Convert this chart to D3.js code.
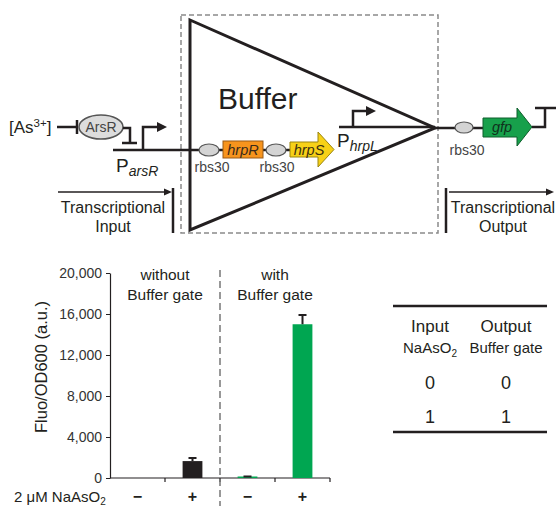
<!DOCTYPE html>
<html>
<head>
<meta charset="utf-8">
<script src="https://cdn.jsdelivr.net/npm/d3@7"></script>
<style>
  body { margin: 0; background: #fff; }
  text { font-family: "Liberation Sans", Arial, sans-serif; fill: #231f20; }
</style>
</head>
<body>
<script>
// chart data
const conditions = ["\u2212", "+", "\u2212", "+"];
const groups = ["without", "without", "with", "with"];
const fluo = [0, 1650, 50, 15000];
const fluoErr = [0, 300, 100, 900];
const yTicks = [0, 4000, 8000, 12000, 16000, 20000];
const groupLabels = [["without", "Buffer gate"], ["with", "Buffer gate"]];
const tableInputs = [0, 1];
const tableOutputs = [0, 1];

const W = 556, H = 506;
const ink = "#231f20";
const svg = d3.select("body").append("svg")
    .attr("width", W).attr("height", H);

// ---------- genetic circuit diagram ----------
const g = svg.append("g");

// dashed buffer box + triangle
g.append("rect")
    .attr("x", 181).attr("y", 15).attr("width", 257).attr("height", 218)
    .attr("fill", "none").attr("stroke", "#8a8a8a")
    .attr("stroke-width", 1.5).attr("stroke-dasharray", "5,3");
g.append("path")
    .attr("d", "M190,20 L435,128 L190,230 Z")
    .attr("fill", "none").attr("stroke", ink).attr("stroke-width", 3)
    .attr("stroke-linejoin", "miter");
g.append("text").attr("x", 218).attr("y", 109)
    .attr("font-size", 30).text("Buffer");

const line = (d, w) => g.append("path").attr("d", d)
    .attr("fill", "none").attr("stroke", ink).attr("stroke-width", w || 2.5);
const tri = d => g.append("path").attr("d", d).attr("fill", ink);

// DNA lines
line("M113,150 H290");
line("M339,127 H435");
line("M435,128 H483");

// [As3+] -| ArsR -| ParsR
const as = g.append("text").attr("x", 9).attr("y", 133).attr("font-size", 17);
as.append("tspan").text("[As");
as.append("tspan").attr("font-size", 11.5).attr("dy", -6).text("3+");
as.append("tspan").attr("dy", 6).text("]");
line("M57,127 H77");
line("M77,120 V134");
g.append("ellipse").attr("cx", 101).attr("cy", 127).attr("rx", 22).attr("ry", 12)
    .attr("fill", "#dcdcdc").attr("stroke", "#555").attr("stroke-width", 1.5);
g.append("text").attr("x", 101).attr("y", 132).attr("text-anchor", "middle")
    .attr("font-size", 14).style("fill", "#444").text("ArsR");
line("M123,128 H130 V143");
line("M122,143 H137");
line("M143,150 V127 H158");
tri("M157,122 L167,127 L157,132 Z");
const pa = g.append("text").attr("x", 116).attr("y", 172).attr("font-size", 19);
pa.append("tspan").text("P");
pa.append("tspan").attr("font-size", 14).attr("font-style", "italic").attr("dy", 4).text("arsR");

// hrpL promoter
line("M353,127 V111 H366");
tri("M366,106 L376,111 L366,116 Z");
const ph = g.append("text").attr("x", 337).attr("y", 147).attr("font-size", 19);
ph.append("tspan").text("P");
ph.append("tspan").attr("font-size", 14).attr("font-style", "italic").attr("dy", 4).text("hrpL");

// rbs ellipses
const rbs = [[209, 150, 10, 6, 212, 172], [276, 150, 10, 6, 277, 172], [464, 127.5, 9, 5.5, 467, 155]];
rbs.forEach(r => {
  g.append("ellipse").attr("cx", r[0]).attr("cy", r[1]).attr("rx", r[2]).attr("ry", r[3])
      .attr("fill", "#d4d4d4").attr("stroke", "#555").attr("stroke-width", 1.2);
  g.append("text").attr("x", r[4]).attr("y", r[5]).attr("text-anchor", "middle")
      .attr("font-size", 14).style("fill", "#444").text("rbs30");
});

// genes
g.append("rect").attr("x", 223).attr("y", 141).attr("width", 40).attr("height", 17)
    .attr("fill", "#f7941d").attr("stroke", "#9a5a16").attr("stroke-width", 1);
g.append("text").attr("x", 243).attr("y", 155).attr("text-anchor", "middle")
    .attr("font-size", 14.5).attr("font-style", "italic").style("fill", "#3a2a1a").text("hrpR");
g.append("path").attr("d", "M290,142 H318 V132 L334,149.5 L318,167 V157 H290 Z")
    .attr("fill", "#f7d117").attr("stroke", "#9a8510").attr("stroke-width", 1);
g.append("text").attr("x", 309).attr("y", 155).attr("text-anchor", "middle")
    .attr("font-size", 14.5).attr("font-style", "italic").style("fill", "#3a3010").text("hrpS");
g.append("path").attr("d", "M483,118 H517 V108 L532,127 L517,146 V137 H483 Z")
    .attr("fill", "#17a04b").attr("stroke", "#0e5e2c").attr("stroke-width", 1);
g.append("text").attr("x", 502).attr("y", 132).attr("text-anchor", "middle")
    .attr("font-size", 14.5).attr("font-style", "italic").style("fill", "#10301c").text("gfp");

// terminator
line("M532,127 H545 V108");
line("M535,108 H557");

// transcriptional input / output
line("M58,192 H166", 1.3);
tri("M164,188.5 L172,192 L164,195.5 Z");
line("M173,188 V233", 2.5);
g.append("text").attr("x", 113).attr("y", 213).attr("text-anchor", "middle")
    .attr("font-size", 16).text("Transcriptional");
g.append("text").attr("x", 113).attr("y", 232).attr("text-anchor", "middle")
    .attr("font-size", 16).text("Input");
line("M446,188 V233", 2.5);
line("M449,192 H548", 1.3);
tri("M546,188.5 L554,192 L546,195.5 Z");
g.append("text").attr("x", 503).attr("y", 213).attr("text-anchor", "middle")
    .attr("font-size", 16).text("Transcriptional");
g.append("text").attr("x", 503).attr("y", 232).attr("text-anchor", "middle")
    .attr("font-size", 16).text("Output");

// ---------- bar chart ----------
const x = d3.scaleBand().domain(d3.range(conditions.length))
    .range([110, 330]).paddingInner(0.64).paddingOuter(0.32);
const y = d3.scaleLinear().domain([0, 20000]).range([478, 273]);

svg.append("text")
    .attr("transform", "translate(47,367) rotate(-90)")
    .attr("text-anchor", "middle").attr("font-size", 16.5)
    .text("Fluo/OD600 (a.u.)");

const yAxis = svg.append("g").attr("transform", "translate(110,0)")
    .call(d3.axisLeft(y).tickValues(yTicks).tickFormat(d3.format(",")).tickSize(4).tickSizeOuter(0));
yAxis.select(".domain").attr("stroke", ink).attr("stroke-width", 1.2);
yAxis.selectAll(".tick line").attr("stroke", ink);
yAxis.selectAll("text").attr("font-size", 14).attr("font-family", "Liberation Sans, Arial, sans-serif")
    .style("fill", "#333").attr("x", -8);

// x baseline with ticks at band edges
svg.append("line").attr("x1", 110).attr("x2", 330).attr("y1", y(0)).attr("y2", y(0))
    .attr("stroke", ink).attr("stroke-width", 1.2);
svg.selectAll(".xtick").data(d3.range(1, conditions.length + 1)).enter()
    .append("line").attr("class", "xtick")
    .attr("x1", i => 110 + i * x.step()).attr("x2", i => 110 + i * x.step())
    .attr("y1", y(0)).attr("y2", y(0) + 4)
    .attr("stroke", ink).attr("stroke-width", 1.2);

const barColor = i => groups[i] === "with" ? "#00a651" : ink;
svg.selectAll(".bar").data(fluo).enter().append("rect")
    .attr("class", "bar")
    .attr("x", (d, i) => x(i)).attr("width", x.bandwidth())
    .attr("y", d => d > 0 ? Math.min(y(d), y(0) - 1.5) : y(0))
    .attr("height", d => d > 0 ? Math.max(y(0) - y(d), 1.5) : 0)
    .attr("fill", (d, i) => barColor(i));

// error bars (only where an error was measured)
const errIdx = d3.range(fluo.length).filter(i => fluoErr[i] > 0);
svg.selectAll(".err").data(errIdx).enter().append("path")
    .attr("class", "err")
    .attr("d", i => {
      const cx = x(i) + x.bandwidth() / 2;
      const top = y(fluo[i] + fluoErr[i]);
      return "M" + cx + "," + y(fluo[i]) + " V" + top +
          " M" + (cx - 4) + "," + top + " H" + (cx + 4);
    })
    .attr("fill", "none").attr("stroke", ink).attr("stroke-width", 2);

// group divider
svg.append("line").attr("x1", 220).attr("x2", 220).attr("y1", 270).attr("y2", 506)
    .attr("stroke", "#777").attr("stroke-width", 1.5).attr("stroke-dasharray", "7,4");

groupLabels.forEach((lbl, k) => {
  const cx = 110 + (k * 2 + 1) * x.step();
  lbl.forEach((t, j) => svg.append("text")
      .attr("x", cx).attr("y", 280 + j * 20).attr("text-anchor", "middle")
      .attr("font-size", 15.5).text(t));
});

// treatment row
const nt = svg.append("text").attr("x", 14).attr("y", 502).attr("font-size", 15);
nt.append("tspan").text("2 \u03bcM NaAsO");
nt.append("tspan").attr("font-size", 10).attr("dy", 3).text("2");
svg.selectAll(".cond").data(conditions).enter().append("text")
    .attr("class", "cond")
    .attr("x", (d, i) => x(i) + x.bandwidth() / 2).attr("y", 502)
    .attr("text-anchor", "middle").attr("font-size", 16).attr("font-weight", "bold")
    .text(d => d);

// ---------- truth table ----------
const tb = svg.append("g");
tb.append("line").attr("x1", 393).attr("x2", 547).attr("y1", 306).attr("y2", 306)
    .attr("stroke", ink).attr("stroke-width", 2.5);
tb.append("line").attr("x1", 393).attr("x2", 547).attr("y1", 432).attr("y2", 432)
    .attr("stroke", ink).attr("stroke-width", 2.5);
tb.append("text").attr("x", 430).attr("y", 332).attr("text-anchor", "middle")
    .attr("font-size", 17).text("Input");
tb.append("text").attr("x", 506).attr("y", 332).attr("text-anchor", "middle")
    .attr("font-size", 17).text("Output");
const na = tb.append("text").attr("x", 430).attr("y", 353).attr("text-anchor", "middle")
    .attr("font-size", 15);
na.append("tspan").text("NaAsO");
na.append("tspan").attr("font-size", 10).attr("dy", 4).text("2");
tb.append("text").attr("x", 506).attr("y", 353).attr("text-anchor", "middle")
    .attr("font-size", 15).text("Buffer gate");
const rowY = d3.scalePoint().domain(d3.range(tableInputs.length)).range([389, 423]);
tableInputs.forEach((v, i) => {
  tb.append("text").attr("x", 430).attr("y", rowY(i)).attr("text-anchor", "middle")
      .attr("font-size", 18).text(v);
  tb.append("text").attr("x", 506).attr("y", rowY(i)).attr("text-anchor", "middle")
      .attr("font-size", 18).text(tableOutputs[i]);
});
</script>
</body>
</html>
